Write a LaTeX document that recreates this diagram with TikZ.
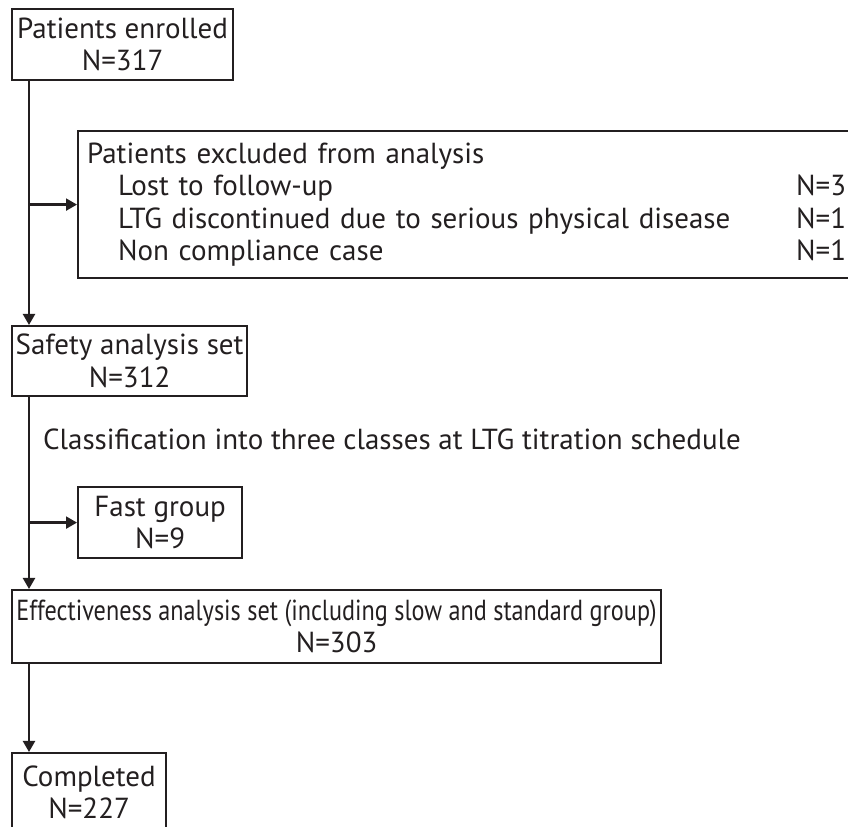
\documentclass[tikz,border=0pt]{standalone}
\usepackage{fontspec}
\usepackage{graphicx}
\setmainfont{PT Sans}
\usetikzlibrary{arrows.meta}
\definecolor{ink}{HTML}{231F20}
\begin{document}
\begin{tikzpicture}
[x=1bp,y=1bp,ink,line width=2.2bp,%
  every node/.style={inner sep=0pt,text=ink,font=\fontsize{29bp}{32.5bp}\selectfont},%
  box/.style={draw,anchor=north west,align=center},%
  arr/.style={-{Triangle[length=11bp,width=12bp]}}]
\useasboundingbox (0,0) rectangle (848,827);
\clip (0,0) rectangle (848,827);
\node[box,minimum width=221bp,minimum height=71bp] (enrolled) at (11,819)
  {Patients enrolled\\N=317};
\node[box,align=left,inner xsep=9bp,text width=800bp,minimum height=147bp] (excluded) at (77,697)
  {Patients excluded from analysis\\
   \hspace*{31bp}\makebox[678bp][l]{Lost to follow-up}N=3\\
   \hspace*{31bp}\makebox[678bp][l]{LTG discontinued due to serious physical disease}N=1\\
   \hspace*{31bp}\makebox[678bp][l]{Non compliance case}N=1};
\node[box,minimum width=235bp,minimum height=70bp] (safety) at (11,502)
  {Safety analysis set\\N=312};
\node[anchor=west] (classes) at (42,388)
  {Classification into three classes at LTG titration schedule};
\node[box,minimum width=164bp,minimum height=71bp] (fast) at (77,341)
  {Fast group\\N=9};
\node[box,minimum width=649bp,minimum height=73bp] (effect) at (11,238)
  {\scalebox{0.835}[1]{Effectiveness analysis set (including slow and standard group)}\\N=303};
\node[box,minimum width=154bp,minimum height=78bp] (done) at (11,75)
  {Completed\\N=227};
\coordinate (trunk) at ([xshift=18bp]enrolled.south west);
\draw[arr] (trunk) -- (trunk |- safety.north);
\draw[arr] (trunk |- excluded.west) -- (excluded.west);
\draw[arr] ([xshift=18bp]safety.south west) -- ([xshift=18bp]effect.north west);
\draw[arr] ([xshift=18bp]safety.south west |- fast.west) -- (fast.west);
\draw[arr] ([xshift=18bp]effect.south west) -- ([xshift=18bp]done.north west);
\end{tikzpicture}
\end{document}
